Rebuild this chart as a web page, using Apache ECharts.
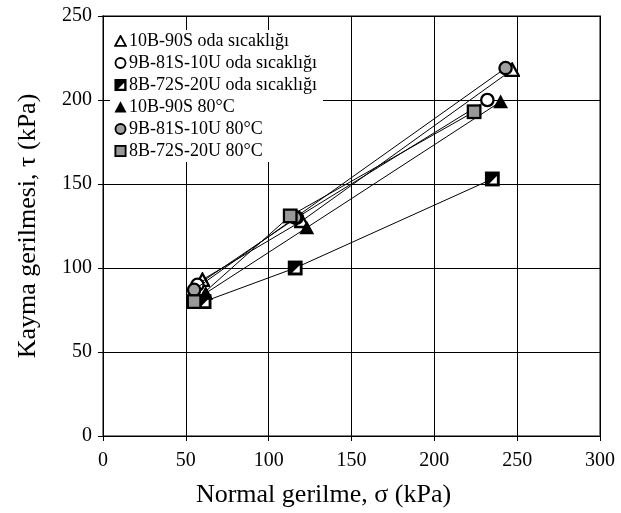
<!DOCTYPE html>
<html>
<head>
<meta charset="utf-8">
<script src="https://cdn.jsdelivr.net/npm/echarts@6/dist/echarts.min.js"></script>
<style>html,body{margin:0;padding:0;background:#fff}#c{width:621px;height:513px}</style>
</head>
<body>
<div id="c"></div>
<script>
const seriesNames = ['10B-90S oda sıcaklığı','9B-81S-10U oda sıcaklığı','8B-72S-20U oda sıcaklığı','10B-90S 80°C','9B-81S-10U 80°C','8B-72S-20U 80°C'];
const sigma_10B90S_oda = [60, 120, 247];
const tau_10B90S_oda   = [93, 128, 218];
const sigma_9B81S_oda  = [57, 117, 232];
const tau_9B81S_oda    = [90, 130, 200];
const sigma_8B72S_oda  = [61, 116, 235];
const tau_8B72S_oda    = [80, 100, 153];
const sigma_10B90S_80  = [62, 123, 240];
const tau_10B90S_80    = [85, 124, 199];
const sigma_9B81S_80   = [55, 116, 243];
const tau_9B81S_80     = [87, 130, 219];
const sigma_8B72S_80   = [55, 113, 224];
const tau_8B72S_80     = [80, 131, 193];
const xTicks = [0,50,100,150,200,250,300];
const yTicks = [0,50,100,150,200,250];

function svg(inner){ return 'image://data:image/svg+xml,' + encodeURIComponent("<svg xmlns='http://www.w3.org/2000/svg' width='28' height='28' viewBox='0 0 14 14'>" + inner + "</svg>"); }
const symbols = [
  svg("<polygon points='7,1.6 12.8,12.3 1.2,12.3' fill='white' stroke='black' stroke-width='2' stroke-linejoin='miter'/>"),
  svg("<circle cx='7' cy='7' r='5.4' fill='white' stroke='black' stroke-width='2'/>"),
  svg("<rect x='1.5' y='1.5' width='11' height='11' fill='black' stroke='black' stroke-width='2'/><polygon points='11,4.5 11,11 4.5,11' fill='white'/>"),
  svg("<polygon points='7,0.8 13.5,12.8 0.5,12.8' fill='black'/>"),
  svg("<circle cx='7' cy='7' r='5.4' fill='#a0a0a0' stroke='black' stroke-width='2'/>"),
  svg("<rect x='1.5' y='1.5' width='11' height='11' fill='#989898' stroke='black' stroke-width='2'/>")
];
const xs = [sigma_10B90S_oda, sigma_9B81S_oda, sigma_8B72S_oda, sigma_10B90S_80, sigma_9B81S_80, sigma_8B72S_80];
const ys = [tau_10B90S_oda, tau_9B81S_oda, tau_8B72S_oda, tau_10B90S_80, tau_9B81S_80, tau_8B72S_80];

const font = 'Liberation Serif';
const series = seriesNames.map((n,i)=>({
  name:n, type:'line', data: xs[i].map((x,j)=>[x, ys[i][j]]),
  symbol: symbols[i], symbolSize: 16, showSymbol:true,
  lineStyle:{color:'#000', width:1}, itemStyle:{color:'#000'}, z: 3+i, animation:false
}));

const chart = echarts.init(document.getElementById('c'), null, {renderer:'canvas'});
chart.setOption({
  animation:false,
  backgroundColor:'#fff',
  grid:{left:103, right:21, top:16, bottom:75, show:true, borderColor:'#808080', borderWidth:2, backgroundColor:'transparent'},
  legend:{
    orient:'vertical', left:110, top:30, itemGap:4, itemWidth:13, itemHeight:13, padding:[2,6,2,4],
    textStyle:{fontFamily:font, fontSize:18, color:'#000', padding:[0,0,0,-3]},
    data: seriesNames.map((n,i)=>({name:n, icon: symbols[i]})),
    backgroundColor:'#fff'
  },
  xAxis:{
    type:'value', min:xTicks[0], max:xTicks[xTicks.length-1], interval:50,
    name:'Normal gerilme, σ (kPa)', nameLocation:'middle', nameGap:46,
    nameTextStyle:{fontFamily:font, fontSize:26, color:'#000', padding:[0,56,0,0]},
    axisLine:{show:true, lineStyle:{color:'#000', width:1}},
    axisTick:{show:true, length:5, lineStyle:{color:'#000'}},
    axisLabel:{fontFamily:font, fontSize:20, color:'#000', margin:15},
    splitLine:{show:true, lineStyle:{color:'#000', width:1}}
  },
  yAxis:{
    type:'value', min:yTicks[0], max:yTicks[yTicks.length-1], interval:50,
    name:'Kayma gerilmesi, τ (kPa)', nameLocation:'middle', nameGap:62,
    nameTextStyle:{fontFamily:font, fontSize:26, color:'#000'},
    axisLine:{show:true, lineStyle:{color:'#000', width:1}},
    axisTick:{show:true, length:5, lineStyle:{color:'#000'}},
    axisLabel:{fontFamily:font, fontSize:20, color:'#000', margin:11},
    splitLine:{show:true, lineStyle:{color:'#000', width:1}}
  },
  series: series
});
</script>
</body>
</html>
